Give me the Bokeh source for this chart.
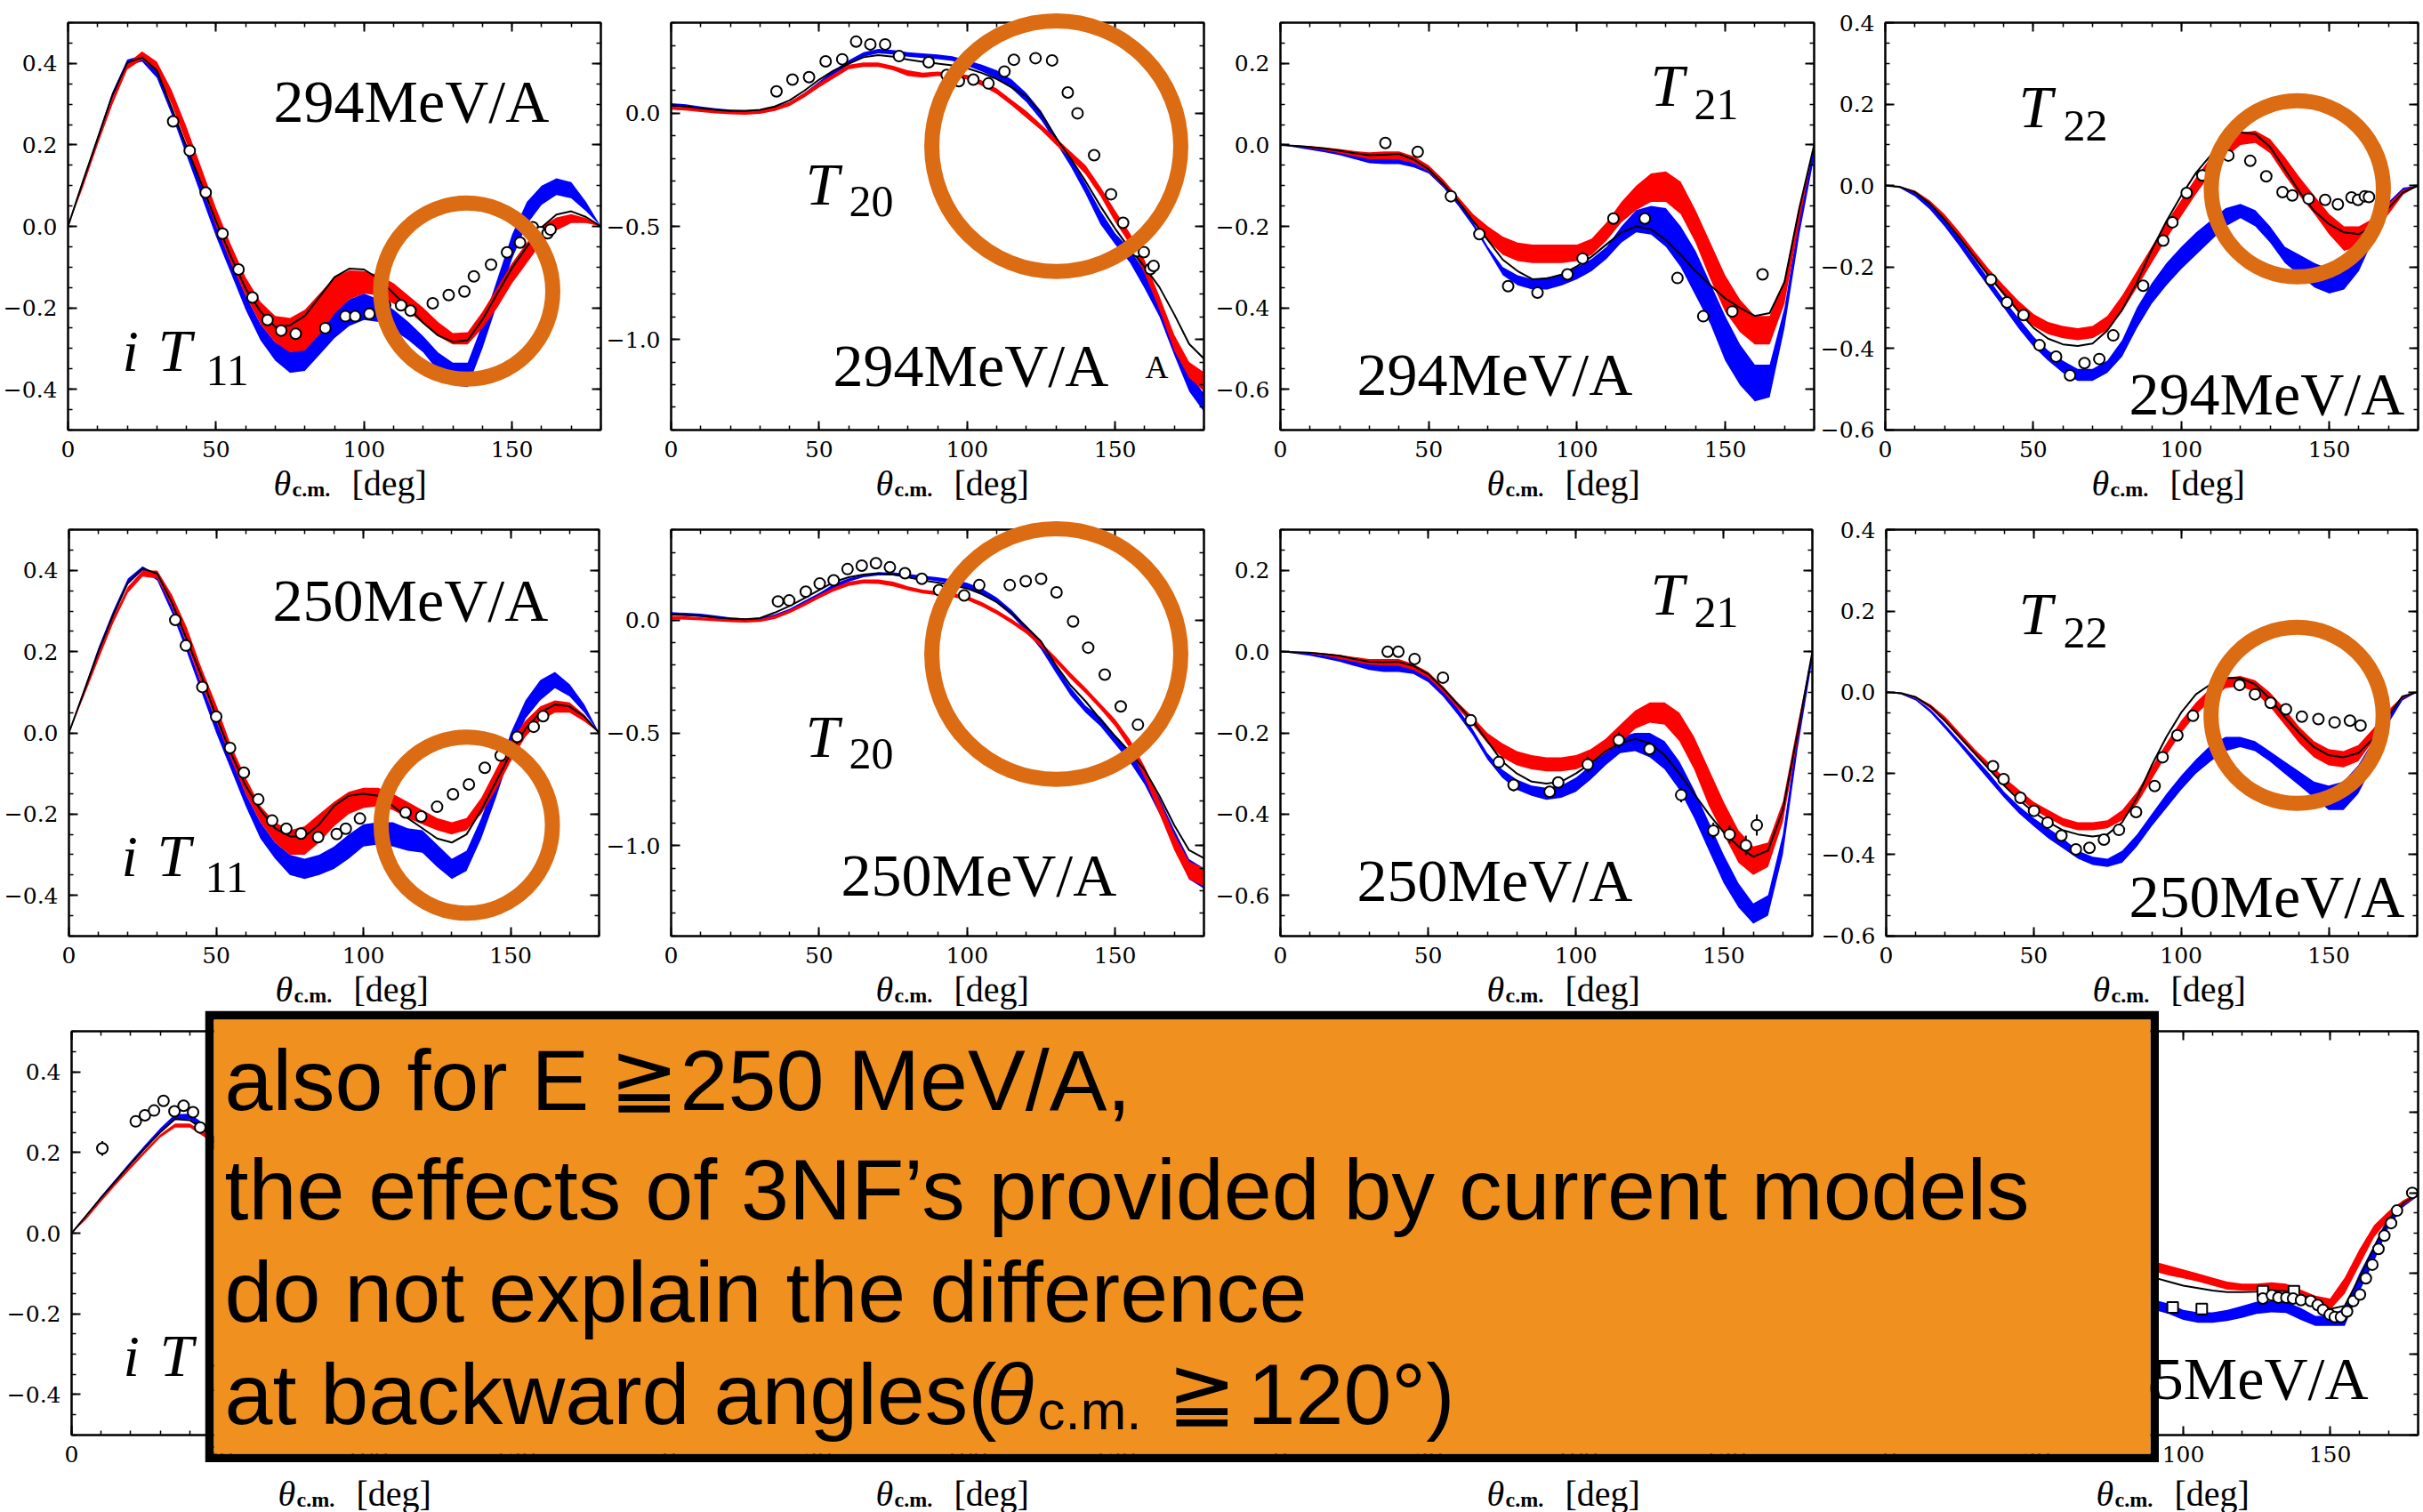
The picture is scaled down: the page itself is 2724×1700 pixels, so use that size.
from bokeh.plotting import figure
from bokeh.layouts import column, row
from bokeh.models import Range1d, FixedTicker, LinearAxis, CustomJSTickFormatter, Label
from bokeh.embed import file_html
from bokeh.resources import INLINE

# ---------------------------------------------------------------- angles
ANGLES = list(range(0, 181, 5))
ANGLES_FWD = list(range(0, 51, 5))
ANGLES_BWD = list(range(90, 181, 5))

# ---------------------------------------------------------------- iT11, 294 MeV/A
IT11_294_LINE = [0, 0.11, 0.216, 0.323, 0.402, 0.415, 0.383, 0.291, 0.196, 0.105, 0.013, -0.074, -0.153, -0.209, -0.247, -0.243, -0.22, -0.173, -0.125, -0.104, -0.106, -0.129, -0.165, -0.2, -0.237, -0.268, -0.284, -0.28, -0.229, -0.165, -0.102, -0.05, -0.002, 0.029, 0.037, 0.023, 0]
IT11_294_RED_HI = [0, 0.105, 0.21, 0.315, 0.40, 0.43, 0.405, 0.335, 0.245, 0.145, 0.045, -0.045, -0.125, -0.185, -0.22, -0.225, -0.205, -0.165, -0.125, -0.108, -0.11, -0.12, -0.14, -0.17, -0.20, -0.235, -0.262, -0.26, -0.21, -0.15, -0.09, -0.04, 0.0, 0.022, 0.03, 0.02, 0]
IT11_294_RED_LO = [0, 0.095, 0.20, 0.30, 0.385, 0.41, 0.38, 0.30, 0.205, 0.10, 0.0, -0.09, -0.17, -0.24, -0.285, -0.31, -0.305, -0.265, -0.215, -0.18, -0.165, -0.17, -0.19, -0.21, -0.24, -0.27, -0.29, -0.29, -0.25, -0.20, -0.14, -0.09, -0.04, -0.01, 0.008, 0.008, 0]
IT11_294_BLUE_HI = [0, 0.112, 0.222, 0.33, 0.41, 0.42, 0.38, 0.295, 0.20, 0.10, 0.005, -0.085, -0.17, -0.24, -0.285, -0.305, -0.29, -0.25, -0.21, -0.18, -0.165, -0.18, -0.205, -0.235, -0.27, -0.31, -0.335, -0.335, -0.24, -0.13, -0.02, 0.06, 0.10, 0.118, 0.109, 0.06, 0]
IT11_294_BLUE_LO = [0, 0.10, 0.21, 0.315, 0.395, 0.405, 0.365, 0.275, 0.175, 0.075, -0.025, -0.115, -0.205, -0.28, -0.33, -0.36, -0.355, -0.315, -0.275, -0.245, -0.23, -0.235, -0.255, -0.28, -0.31, -0.355, -0.39, -0.395, -0.30, -0.19, -0.08, 0.005, 0.053, 0.077, 0.069, 0.037, 0]
IT11_294_X = [35.5, 41.1, 46.5, 52.2, 57.6, 62.3, 67.4, 72.0, 76.9, 86.9, 93.7, 97.0, 101.8, 107.1, 112.5, 115.7, 123.2, 128.6, 133.9, 137.1, 142.9, 148.3, 152.7, 157.0, 159.6, 162.0, 163.0]
IT11_294_Y = [0.258, 0.186, 0.083, -0.018, -0.106, -0.175, -0.23, -0.256, -0.264, -0.25, -0.221, -0.221, -0.215, -0.194, -0.194, -0.207, -0.189, -0.169, -0.160, -0.123, -0.094, -0.064, -0.040, -0.002, -0.014, -0.017, -0.008]

# ---------------------------------------------------------------- T20, 294 MeV/A
T20_294_LINE = [0.036, 0.03, 0.022, 0.015, 0.01, 0.01, 0.015, 0.03, 0.057, 0.10, 0.149, 0.19, 0.22, 0.248, 0.257, 0.25, 0.238, 0.228, 0.22, 0.212, 0.199, 0.178, 0.152, 0.115, 0.075, 0.0, -0.108, -0.2, -0.3, -0.41, -0.51, -0.6, -0.68, -0.77, -0.89, -1.02, -1.085]
T20_294_RED_HI = [0.03, 0.026, 0.02, 0.014, 0.01, 0.008, 0.012, 0.026, 0.05, 0.09, 0.135, 0.175, 0.215, 0.225, 0.225, 0.21, 0.19, 0.18, 0.185, 0.18, 0.17, 0.145, 0.11, 0.06, 0.01, -0.05, -0.11, -0.17, -0.23, -0.325, -0.43, -0.53, -0.65, -0.81, -0.98, -1.1, -1.145]
T20_294_RED_LO = [0.016, 0.012, 0.006, 0.0, -0.004, -0.006, -0.002, 0.01, 0.032, 0.07, 0.115, 0.155, 0.195, 0.205, 0.205, 0.19, 0.165, 0.158, 0.165, 0.16, 0.15, 0.122, 0.085, 0.035, -0.02, -0.075, -0.14, -0.2, -0.27, -0.365, -0.48, -0.58, -0.71, -0.87, -1.05, -1.17, -1.23]
T20_294_BLUE_HI = [0.045, 0.04, 0.03, 0.022, 0.016, 0.014, 0.016, 0.028, 0.05, 0.09, 0.14, 0.19, 0.235, 0.27, 0.285, 0.28, 0.27, 0.265, 0.26, 0.252, 0.235, 0.215, 0.19, 0.15, 0.09, 0.01, -0.1, -0.2, -0.31, -0.43, -0.53, -0.6, -0.7, -0.82, -0.99, -1.15, -1.24]
T20_294_BLUE_LO = [0.03, 0.025, 0.018, 0.01, 0.004, 0.002, 0.004, 0.014, 0.035, 0.072, 0.12, 0.17, 0.215, 0.25, 0.265, 0.26, 0.25, 0.245, 0.24, 0.232, 0.21, 0.185, 0.155, 0.11, 0.05, -0.03, -0.13, -0.235, -0.355, -0.49, -0.58, -0.66, -0.775, -0.9, -1.07, -1.23, -1.32]
T20_294_X = [35.6, 41.0, 46.6, 52.2, 57.8, 62.5, 67.3, 72.3, 77.0, 87.0, 93.1, 97.2, 102.1, 107.2, 112.6, 115.8, 123.1, 128.7, 134.0, 137.3, 142.9, 148.6, 152.7, 157.5, 159.7, 161.9, 163.0]
T20_294_Y = [0.097, 0.149, 0.160, 0.230, 0.239, 0.317, 0.305, 0.305, 0.253, 0.226, 0.170, 0.142, 0.149, 0.132, 0.185, 0.237, 0.244, 0.234, 0.092, 0.0, -0.185, -0.358, -0.484, -0.61, -0.614, -0.689, -0.675]

# ---------------------------------------------------------------- T21, 294 MeV/A
T21_294_LINE = [0, -0.002, -0.005, -0.009, -0.014, -0.02, -0.025, -0.024, -0.022, -0.036, -0.06, -0.096, -0.139, -0.187, -0.234, -0.282, -0.31, -0.33, -0.328, -0.318, -0.298, -0.274, -0.244, -0.215, -0.2, -0.207, -0.234, -0.27, -0.31, -0.345, -0.377, -0.4, -0.42, -0.413, -0.337, -0.155, 0]
T21_294_RED_HI = [0, 0.0, -0.003, -0.006, -0.01, -0.015, -0.018, -0.016, -0.016, -0.028, -0.05, -0.085, -0.128, -0.17, -0.2, -0.225, -0.24, -0.245, -0.245, -0.245, -0.245, -0.23, -0.19, -0.14, -0.1, -0.07, -0.065, -0.09, -0.16, -0.24, -0.32, -0.38, -0.42, -0.42, -0.33, -0.15, 0]
T21_294_RED_LO = [0, -0.004, -0.008, -0.013, -0.02, -0.028, -0.035, -0.035, -0.036, -0.045, -0.065, -0.1, -0.142, -0.19, -0.235, -0.27, -0.285, -0.29, -0.29, -0.29, -0.285, -0.27, -0.235, -0.19, -0.16, -0.14, -0.14, -0.17, -0.24, -0.33, -0.41, -0.46, -0.49, -0.49, -0.39, -0.19, 0]
T21_294_BLUE_HI = [0, -0.002, -0.006, -0.01, -0.015, -0.022, -0.03, -0.03, -0.03, -0.04, -0.055, -0.095, -0.14, -0.19, -0.25, -0.3, -0.32, -0.33, -0.325, -0.32, -0.3, -0.28, -0.25, -0.2, -0.16, -0.15, -0.155, -0.2, -0.26, -0.34, -0.42, -0.49, -0.54, -0.54, -0.4, -0.18, 0]
T21_294_BLUE_LO = [0, -0.006, -0.012, -0.018, -0.025, -0.035, -0.045, -0.047, -0.047, -0.055, -0.07, -0.105, -0.15, -0.2, -0.26, -0.32, -0.345, -0.355, -0.355, -0.345, -0.33, -0.31, -0.28, -0.24, -0.215, -0.22, -0.25, -0.3, -0.37, -0.44, -0.53, -0.59, -0.63, -0.62, -0.45, -0.22, -0.03]
T21_294_X = [35.4, 46.3, 57.5, 67.1, 76.8, 86.7, 96.8, 101.9, 112.3, 122.9, 133.9, 142.6, 152.4, 162.6]
T21_294_Y = [0.005, -0.017, -0.126, -0.219, -0.347, -0.363, -0.318, -0.279, -0.181, -0.181, -0.327, -0.421, -0.409, -0.318]

# ---------------------------------------------------------------- T22, 294 MeV/A
T22_294_LINE = [0, -0.003, -0.016, -0.044, -0.083, -0.127, -0.174, -0.222, -0.265, -0.309, -0.349, -0.376, -0.39, -0.394, -0.388, -0.356, -0.305, -0.238, -0.158, -0.087, -0.024, 0.032, 0.075, 0.111, 0.131, 0.127, 0.095, 0.04, -0.016, -0.063, -0.095, -0.115, -0.119, -0.099, -0.055, -0.016, 0]
T22_294_RED_HI = [0, -0.002, -0.012, -0.036, -0.07, -0.113, -0.16, -0.205, -0.245, -0.283, -0.315, -0.335, -0.345, -0.35, -0.345, -0.32, -0.27, -0.21, -0.15, -0.09, -0.035, 0.02, 0.07, 0.11, 0.13, 0.135, 0.115, 0.07, 0.02, -0.025, -0.07, -0.10, -0.10, -0.08, -0.045, -0.01, 0]
T22_294_RED_LO = [0, -0.005, -0.018, -0.046, -0.085, -0.13, -0.18, -0.225, -0.27, -0.31, -0.345, -0.365, -0.375, -0.38, -0.375, -0.355, -0.31, -0.25, -0.19, -0.13, -0.075, -0.02, 0.03, 0.07, 0.10, 0.105, 0.08, 0.025, -0.025, -0.07, -0.12, -0.16, -0.15, -0.12, -0.07, -0.022, 0]
T22_294_BLUE_HI = [0, -0.003, -0.018, -0.045, -0.085, -0.13, -0.18, -0.23, -0.28, -0.325, -0.37, -0.405, -0.43, -0.45, -0.45, -0.43, -0.38, -0.30, -0.24, -0.19, -0.15, -0.115, -0.085, -0.055, -0.045, -0.06, -0.10, -0.15, -0.17, -0.19, -0.205, -0.20, -0.16, -0.09, -0.04, -0.005, 0]
T22_294_BLUE_LO = [0, -0.006, -0.026, -0.058, -0.10, -0.148, -0.20, -0.25, -0.30, -0.35, -0.395, -0.43, -0.46, -0.48, -0.48, -0.46, -0.42, -0.35, -0.29, -0.245, -0.205, -0.17, -0.135, -0.10, -0.08, -0.10, -0.14, -0.19, -0.22, -0.25, -0.265, -0.255, -0.21, -0.13, -0.06, -0.02, 0]
T22_294_X = [35.7, 41.1, 46.7, 52.1, 57.7, 62.4, 67.3, 72.3, 77.0, 87.1, 93.9, 97.0, 101.8, 107.1, 112.2, 115.9, 123.3, 128.7, 134.2, 137.5, 143.0, 148.6, 152.9, 157.5, 159.7, 162.0, 163.4]
T22_294_Y = [-0.231, -0.287, -0.318, -0.392, -0.42, -0.466, -0.436, -0.426, -0.368, -0.246, -0.135, -0.09, -0.018, 0.025, 0.07, 0.074, 0.061, 0.023, -0.016, -0.024, -0.032, -0.035, -0.046, -0.029, -0.035, -0.026, -0.028]

# ---------------------------------------------------------------- iT11, 250 MeV/A
IT11_250_LINE = [0, 0.10, 0.20, 0.29, 0.37, 0.405, 0.392, 0.32, 0.23, 0.14, 0.04, -0.05, -0.13, -0.19, -0.235, -0.255, -0.255, -0.225, -0.18, -0.155, -0.15, -0.155, -0.18, -0.21, -0.235, -0.26, -0.27, -0.25, -0.19, -0.12, -0.05, 0.01, 0.05, 0.07, 0.065, 0.04, 0]
IT11_250_RED_HI = [0, 0.097, 0.195, 0.285, 0.36, 0.40, 0.40, 0.34, 0.26, 0.16, 0.07, -0.03, -0.11, -0.18, -0.22, -0.24, -0.23, -0.20, -0.17, -0.145, -0.135, -0.135, -0.15, -0.17, -0.19, -0.21, -0.22, -0.21, -0.16, -0.09, -0.02, 0.03, 0.065, 0.08, 0.075, 0.045, 0]
IT11_250_RED_LO = [0, 0.088, 0.18, 0.27, 0.345, 0.385, 0.38, 0.31, 0.22, 0.12, 0.03, -0.065, -0.15, -0.22, -0.27, -0.30, -0.30, -0.27, -0.23, -0.20, -0.185, -0.18, -0.19, -0.21, -0.225, -0.24, -0.25, -0.24, -0.20, -0.14, -0.07, -0.01, 0.03, 0.05, 0.05, 0.028, 0]
IT11_250_BLUE_HI = [0, 0.105, 0.21, 0.30, 0.38, 0.41, 0.39, 0.31, 0.22, 0.12, 0.03, -0.06, -0.15, -0.22, -0.27, -0.30, -0.31, -0.30, -0.28, -0.25, -0.225, -0.22, -0.22, -0.235, -0.24, -0.275, -0.31, -0.29, -0.21, -0.11, 0.0, 0.08, 0.13, 0.15, 0.12, 0.07, 0]
IT11_250_BLUE_LO = [0, 0.095, 0.195, 0.285, 0.365, 0.40, 0.375, 0.295, 0.20, 0.10, 0.0, -0.09, -0.18, -0.26, -0.31, -0.35, -0.36, -0.35, -0.335, -0.31, -0.28, -0.275, -0.28, -0.29, -0.295, -0.33, -0.36, -0.34, -0.26, -0.16, -0.05, 0.035, 0.08, 0.11, 0.09, 0.05, 0]
IT11_250_X = [36.1, 39.7, 45.3, 50.0, 54.7, 59.4, 64.3, 69.0, 73.8, 78.8, 84.6, 90.9, 94.0, 98.8, 114.3, 119.6, 125.0, 130.4, 135.8, 141.2, 146.6, 152.2, 157.8, 161.0]
IT11_250_Y = [0.278, 0.215, 0.113, 0.04, -0.037, -0.098, -0.164, -0.216, -0.236, -0.248, -0.257, -0.249, -0.236, -0.211, -0.196, -0.206, -0.182, -0.151, -0.127, -0.086, -0.056, -0.01, 0.015, 0.041]

# ---------------------------------------------------------------- T20, 250 MeV/A
T20_250_LINE = [0.026, 0.022, 0.019, 0.012, 0.007, 0.004, 0.009, 0.033, 0.062, 0.097, 0.133, 0.169, 0.19, 0.202, 0.208, 0.202, 0.19, 0.176, 0.166, 0.155, 0.14, 0.115, 0.08, 0.03, -0.03, -0.095, -0.2, -0.29, -0.36, -0.44, -0.515, -0.585, -0.665, -0.78, -0.91, -1.02, -1.055]
T20_250_RED_HI = [0.018, 0.016, 0.013, 0.008, 0.004, 0.001, 0.004, 0.02, 0.045, 0.078, 0.112, 0.145, 0.17, 0.18, 0.18, 0.17, 0.15, 0.135, 0.128, 0.12, 0.107, 0.08, 0.045, 0.005, -0.04, -0.10, -0.165, -0.235, -0.30, -0.37, -0.44, -0.53, -0.65, -0.80, -0.95, -1.07, -1.10]
T20_250_RED_LO = [0.004, 0.002, -0.001, -0.005, -0.009, -0.011, -0.008, 0.005, 0.03, 0.062, 0.096, 0.128, 0.152, 0.162, 0.16, 0.15, 0.132, 0.118, 0.11, 0.102, 0.088, 0.06, 0.025, -0.015, -0.06, -0.12, -0.19, -0.26, -0.325, -0.395, -0.47, -0.57, -0.70, -0.86, -1.02, -1.15, -1.18]
T20_250_BLUE_HI = [0.035, 0.032, 0.028, 0.02, 0.012, 0.008, 0.01, 0.025, 0.05, 0.085, 0.12, 0.16, 0.185, 0.20, 0.212, 0.212, 0.205, 0.197, 0.19, 0.18, 0.165, 0.14, 0.10, 0.045, -0.025, -0.10, -0.20, -0.30, -0.38, -0.43, -0.51, -0.58, -0.67, -0.79, -0.93, -1.06, -1.10]
T20_250_BLUE_LO = [0.02, 0.018, 0.014, 0.006, 0.0, -0.004, -0.004, 0.01, 0.035, 0.065, 0.10, 0.14, 0.17, 0.19, 0.198, 0.198, 0.19, 0.182, 0.172, 0.16, 0.14, 0.115, 0.075, 0.02, -0.05, -0.13, -0.235, -0.335, -0.41, -0.47, -0.55, -0.63, -0.73, -0.86, -1.0, -1.15, -1.19]
T20_250_X = [36.1, 39.9, 45.5, 50.2, 54.9, 59.6, 64.4, 69.2, 73.9, 79.0, 84.7, 90.5, 99.0, 104.1, 114.4, 119.8, 125.0, 130.2, 135.8, 140.9, 146.5, 151.9, 157.7]
T20_250_Y = [0.083, 0.087, 0.126, 0.162, 0.176, 0.226, 0.241, 0.252, 0.234, 0.208, 0.183, 0.133, 0.109, 0.155, 0.155, 0.172, 0.183, 0.123, -0.006, -0.122, -0.242, -0.383, -0.464]

# ---------------------------------------------------------------- T21, 250 MeV/A
T21_250_LINE = [0, -0.001, -0.003, -0.006, -0.01, -0.018, -0.025, -0.026, -0.025, -0.035, -0.055, -0.09, -0.13, -0.17, -0.22, -0.27, -0.30, -0.32, -0.325, -0.32, -0.30, -0.275, -0.245, -0.225, -0.215, -0.225, -0.255, -0.30, -0.35, -0.40, -0.445, -0.48, -0.505, -0.49, -0.39, -0.20, 0]
T21_250_RED_HI = [0, 0, 0, -0.004, -0.008, -0.013, -0.018, -0.018, -0.018, -0.03, -0.05, -0.085, -0.125, -0.16, -0.20, -0.225, -0.245, -0.255, -0.26, -0.26, -0.255, -0.24, -0.215, -0.18, -0.145, -0.125, -0.125, -0.15, -0.21, -0.29, -0.37, -0.44, -0.48, -0.47, -0.37, -0.18, 0]
T21_250_RED_LO = [0, -0.003, -0.005, -0.01, -0.018, -0.025, -0.032, -0.034, -0.035, -0.045, -0.065, -0.10, -0.14, -0.18, -0.225, -0.26, -0.28, -0.29, -0.295, -0.295, -0.29, -0.275, -0.25, -0.225, -0.19, -0.175, -0.18, -0.22, -0.29, -0.38, -0.45, -0.52, -0.55, -0.53, -0.42, -0.22, 0]
T21_250_BLUE_HI = [0, -0.002, -0.005, -0.01, -0.015, -0.022, -0.03, -0.03, -0.03, -0.04, -0.06, -0.095, -0.14, -0.19, -0.25, -0.29, -0.315, -0.33, -0.335, -0.33, -0.31, -0.28, -0.24, -0.21, -0.20, -0.20, -0.22, -0.27, -0.34, -0.42, -0.50, -0.57, -0.62, -0.60, -0.45, -0.20, 0]
T21_250_BLUE_LO = [0, -0.005, -0.01, -0.017, -0.025, -0.035, -0.045, -0.05, -0.05, -0.055, -0.075, -0.11, -0.155, -0.205, -0.265, -0.31, -0.34, -0.355, -0.365, -0.36, -0.345, -0.315, -0.28, -0.25, -0.245, -0.26, -0.29, -0.34, -0.41, -0.49, -0.57, -0.63, -0.67, -0.65, -0.50, -0.24, -0.02]
T21_250_X = [36.3, 39.9, 45.4, 55.0, 64.4, 73.9, 78.9, 91.1, 94.0, 104.0, 114.5, 124.9, 135.6, 146.5, 152.0, 157.5, 161.2]
T21_250_Y = [0.0, 0.0, -0.018, -0.064, -0.169, -0.272, -0.328, -0.345, -0.322, -0.278, -0.218, -0.24, -0.353, -0.441, -0.45, -0.477, -0.427]
T21_250_ERR = [0.008, 0.008, 0.008, 0.01, 0.01, 0.012, 0.016, 0.014, 0.014, 0.02, 0.019, 0.015, 0.018, 0.02, 0.022, 0.024, 0.026]

# ---------------------------------------------------------------- T22, 250 MeV/A
T22_250_LINE = [0, -0.002, -0.012, -0.035, -0.07, -0.11, -0.15, -0.19, -0.23, -0.265, -0.295, -0.32, -0.34, -0.35, -0.355, -0.35, -0.32, -0.26, -0.18, -0.11, -0.05, -0.005, 0.02, 0.035, 0.035, 0.02, -0.015, -0.06, -0.10, -0.135, -0.155, -0.16, -0.15, -0.115, -0.06, -0.01, 0]
T22_250_RED_HI = [0, -0.002, -0.01, -0.03, -0.06, -0.10, -0.14, -0.175, -0.21, -0.24, -0.27, -0.29, -0.31, -0.32, -0.32, -0.315, -0.29, -0.245, -0.185, -0.125, -0.07, -0.025, 0.01, 0.035, 0.04, 0.03, 0.0, -0.04, -0.085, -0.12, -0.14, -0.145, -0.13, -0.09, -0.045, -0.01, 0]
T22_250_RED_LO = [0, -0.004, -0.015, -0.04, -0.075, -0.115, -0.155, -0.193, -0.23, -0.26, -0.29, -0.31, -0.33, -0.34, -0.34, -0.335, -0.315, -0.275, -0.215, -0.155, -0.10, -0.055, -0.02, 0.01, 0.015, 0.0, -0.035, -0.08, -0.125, -0.16, -0.18, -0.185, -0.17, -0.12, -0.06, -0.015, 0]
T22_250_BLUE_HI = [0, -0.003, -0.015, -0.042, -0.08, -0.12, -0.16, -0.20, -0.245, -0.28, -0.31, -0.335, -0.36, -0.39, -0.405, -0.41, -0.39, -0.35, -0.30, -0.25, -0.205, -0.165, -0.13, -0.11, -0.11, -0.12, -0.145, -0.17, -0.195, -0.22, -0.23, -0.22, -0.18, -0.12, -0.05, -0.01, 0]
T22_250_BLUE_LO = [0, -0.005, -0.02, -0.05, -0.09, -0.132, -0.175, -0.218, -0.26, -0.298, -0.33, -0.36, -0.385, -0.41, -0.425, -0.43, -0.42, -0.38, -0.33, -0.285, -0.24, -0.20, -0.17, -0.145, -0.135, -0.145, -0.17, -0.20, -0.23, -0.26, -0.29, -0.29, -0.25, -0.18, -0.08, -0.02, 0]
T22_250_X = [36.2, 39.8, 45.5, 50.1, 54.7, 59.4, 64.3, 68.9, 73.8, 78.9, 84.7, 91.0, 93.7, 98.7, 104.0, 119.8, 125.0, 130.3, 135.5, 140.9, 146.5, 152.0, 157.2, 160.8]
T22_250_Y = [-0.182, -0.214, -0.26, -0.292, -0.321, -0.353, -0.387, -0.383, -0.363, -0.339, -0.295, -0.231, -0.16, -0.106, -0.058, 0.018, -0.005, -0.026, -0.042, -0.06, -0.066, -0.074, -0.07, -0.082]

# ---------------------------------------------------------------- iT11, 135 MeV/A (forward part)
IT11_135_LINE = [0, 0.044, 0.088, 0.13, 0.172, 0.212, 0.25, 0.283, 0.28, 0.255, 0.21]
IT11_135_RED_HI = [0, 0.04, 0.085, 0.128, 0.168, 0.207, 0.245, 0.272, 0.272, 0.25, 0.205]
IT11_135_RED_LO = [0, 0.035, 0.078, 0.12, 0.16, 0.199, 0.237, 0.262, 0.262, 0.238, 0.19]
IT11_135_BLUE_HI = [0, 0.046, 0.092, 0.135, 0.178, 0.22, 0.26, 0.295, 0.296, 0.27, 0.225]
IT11_135_BLUE_LO = [0, 0.042, 0.086, 0.128, 0.17, 0.21, 0.25, 0.282, 0.282, 0.255, 0.21]
IT11_135_X = [10.4, 21.7, 24.8, 27.9, 31.1, 34.8, 37.9, 41.1, 43.5]
IT11_135_Y = [0.21, 0.277, 0.292, 0.304, 0.328, 0.302, 0.316, 0.3, 0.262]
IT11_135_ERR = [0.018, 0.01, 0.01, 0.01, 0.014, 0.01, 0.014, 0.01, 0.01]

# ---------------------------------------------------------------- T22, 135 MeV/A (backward part)
T22_135_LINE = [-0.21, -0.22, -0.23, -0.236, -0.242, -0.246, -0.246, -0.245, -0.243, -0.244, -0.252, -0.27, -0.288, -0.28, -0.21, -0.135, -0.065, -0.025, -0.003]
T22_135_RED_HI = [-0.17, -0.18, -0.19, -0.2, -0.21, -0.22, -0.225, -0.225, -0.222, -0.225, -0.24, -0.255, -0.262, -0.21, -0.14, -0.08, -0.045, -0.018, 0]
T22_135_RED_LO = [-0.195, -0.205, -0.212, -0.22, -0.23, -0.24, -0.242, -0.242, -0.24, -0.245, -0.262, -0.28, -0.29, -0.25, -0.18, -0.11, -0.065, -0.03, -0.008]
T22_135_BLUE_HI = [-0.265, -0.275, -0.29, -0.296, -0.296, -0.29, -0.28, -0.27, -0.268, -0.27, -0.285, -0.305, -0.305, -0.285, -0.2, -0.13, -0.055, -0.02, 0]
T22_135_BLUE_LO = [-0.29, -0.3, -0.315, -0.322, -0.322, -0.318, -0.31, -0.3, -0.296, -0.298, -0.315, -0.33, -0.33, -0.33, -0.245, -0.17, -0.085, -0.035, -0.008]
T22_135_X = [127.1, 130.2, 132.4, 135.1, 137.4, 140.1, 143.4, 145.8, 147.6, 149.9, 151.6, 153.7, 155.8, 157.9, 160.2, 162.2, 164.4, 166.5, 168.5, 170.8, 172.8, 178.0]
T22_135_Y = [-0.262, -0.254, -0.26, -0.26, -0.262, -0.266, -0.268, -0.278, -0.29, -0.302, -0.308, -0.308, -0.294, -0.268, -0.252, -0.212, -0.178, -0.139, -0.106, -0.075, -0.044, 0.0]
T22_135_SQ_X = [96.4, 106.3, 127.1, 137.7]
T22_135_SQ_Y = [-0.284, -0.288, -0.244, -0.244]

# ---------------------------------------------------------------- styling / layout
SERIF = "Liberation Serif"
TICK_FONT = "DejaVu Serif"
SANS = "Liberation Sans"
SYMBOL_FONT = "DejaVu Sans"
RED = "#FF0000"
BLUE = "#0000FF"
RING_COLOR = "#DC6C14"
BOX_ORANGE = "#F0901E"
PAGE_W, PAGE_H = 2724, 1700

COL_WIDTHS = [678, 680, 684, 682]
COL_X0 = [0, 678, 1358, 2042]
ROW_SPECS = [(570, 25, 458), (560, 25, 457), (570, 29, 454)]   # fig height, top border, frame height
ROW_Y0 = [0, 570, 1130]
FRAME_X = [
    [(75, 600), (74, 601), (81, 600), (77, 599)],
    [(77, 596), (74, 601), (81, 598), (78, 597)],
    [(80, 600), (74, 601), (81, 600), (82, 594)],
]
Y_SPECS = [
    ((-0.5, 0.5), [-0.4, -0.2, 0.0, 0.2, 0.4], 0.05),
    ((-1.4, 0.4), [-1.0, -0.5, 0.0], 0.1),
    ((-0.7, 0.3), [-0.6, -0.4, -0.2, 0.0, 0.2], 0.05),
    ((-0.6, 0.4), [-0.6, -0.4, -0.2, 0.0, 0.2, 0.4], 0.05),
]

# half of (ascent - descent) in em: offset between alphabetic baseline and text middle
MID = {SERIF: 0.3375, SANS: 0.3465, TICK_FONT: 0.346, SYMBOL_FONT: 0.346}

overlay_texts = []   # (text, page_x, page_baseline, size, style, font, align)
overlay_rings = []   # (page_cx, page_cy, w, h)


def frame_box(r, c):
    left = COL_X0[c] + FRAME_X[r][c][0]
    width = FRAME_X[r][c][1]
    top = ROW_Y0[r] + ROW_SPECS[r][1]
    height = ROW_SPECS[r][2]
    return left, top, width, height


def minor_list(lo, hi, step):
    n = int(round((hi - lo) / step))
    return [round(lo + i * step, 4) for i in range(n + 1)]


def y_formatter():
    return CustomJSTickFormatter(code="""
        const v = Math.abs(tick) < 1e-9 ? 0 : tick;
        return v.toFixed(1).replace('-', '\u2212');
    """)


def x_formatter():
    return CustomJSTickFormatter(code="return tick.toFixed(0);")


def blank_formatter():
    return CustomJSTickFormatter(code="return '';")


def make_axis(ticker, formatter, show, standoff):
    return LinearAxis(
        ticker=ticker, formatter=formatter,
        axis_line_width=2, axis_line_color="black",
        major_tick_line_width=2, minor_tick_line_width=1.5,
        major_tick_line_color="black", minor_tick_line_color="black",
        major_tick_in=10, major_tick_out=0, minor_tick_in=5, minor_tick_out=0,
        major_label_standoff=standoff,
        major_label_text_font=TICK_FONT,
        major_label_text_font_size="25px" if show else "0px",
        major_label_text_color="black",
    )


def put(p, text, x, y, size, style="normal", font=SERIF, align="left"):
    """Place text with its alphabetic baseline at screen (x, y), measured from the frame's lower left."""
    p.add_layout(Label(x=x, y=y + MID[font] * size, x_units="screen", y_units="screen", text=text,
                       text_font=font, text_font_size=f"{size}px", text_font_style=style,
                       text_align=align, text_baseline="middle", text_color="black"))


def make_panel(r, c, show_y=True):
    height, top, fh = ROW_SPECS[r]
    width = COL_WIDTHS[c]
    left, fw = FRAME_X[r][c]
    (y0, y1), ymaj, ystep = Y_SPECS[c]
    pad = 0.0005 * (y1 - y0)
    p = figure(width=width, height=height, x_range=Range1d(0, 180), y_range=Range1d(y0 - pad, y1 + pad),
               x_axis_type=None, y_axis_type=None, toolbar_location=None, output_backend="svg",
               min_border_left=left, min_border_right=width - left - fw,
               min_border_top=top, min_border_bottom=height - top - fh)
    p.outline_line_color = "black"
    p.outline_line_width = 2
    p.background_fill_color = "white"
    p.border_fill_color = "white"

    def xt():
        return FixedTicker(ticks=[0, 50, 100, 150], minor_ticks=list(range(0, 181, 10)))

    def yt():
        return FixedTicker(ticks=ymaj, minor_ticks=minor_list(y0, y1, ystep))

    p.add_layout(make_axis(xt(), x_formatter(), True, 12), "below")
    p.add_layout(make_axis(yt(), y_formatter() if show_y else blank_formatter(), show_y, 12), "left")
    p.add_layout(make_axis(xt(), blank_formatter(), False, 0), "above")
    p.add_layout(make_axis(yt(), blank_formatter(), False, 0), "right")

    # axis title theta_c.m. [deg], drawn on the page overlay below the frame
    fl, ft, fwid, fht = frame_box(r, c)
    base = ft + fht + (79 if r == 2 else 73)
    overlay_texts.append(("\u03b8", fl + 222, base, 40, "italic", SERIF, "left"))
    overlay_texts.append(("c.m.", fl + 243, base + 2, 24, "bold", SERIF, "left"))
    overlay_texts.append(("[deg]", fl + 310, base, 40, "normal", SERIF, "left"))
    return p


def theory(p, xs, red_lo, red_hi, blue_lo, blue_hi, line):
    p.varea(x=xs, y1=blue_lo, y2=blue_hi, fill_color=BLUE)
    p.varea(x=xs, y1=red_lo, y2=red_hi, fill_color=RED)
    p.line(xs, line, line_color="black", line_width=2)


def measured(p, xs, ys, errs=None, marker="circle"):
    if errs:
        p.segment(x0=xs, y0=[y - e for y, e in zip(ys, errs)], x1=xs, y1=[y + e for y, e in zip(ys, errs)],
                  line_color="black", line_width=2)
    p.scatter(xs, ys, marker=marker, size=12, fill_color="white", line_color="black", line_width=2)


def ring(r, c, cx, cy, w, h):
    """Highlight ring centred at data point (cx, cy) of panel (r, c); size in pixels."""
    fl, ft, fw, fh = frame_box(r, c)
    (y0, y1), _, _ = Y_SPECS[c]
    px = fl + cx / 180.0 * fw
    py = ft + (y1 - cy) / (y1 - y0) * fh
    overlay_rings.append((px, py, w, h))


def observable_label(p, xt, yt, sub, xs, ys, xi=None):
    if xi is not None:
        put(p, "i", xi, yt, 66, "italic")
    put(p, "T", xt, yt, 68, "italic")
    put(p, sub, xs, ys, 50)


# ---------------------------------------------------------------- row 1: 294 MeV/A
p1 = make_panel(0, 0)
theory(p1, ANGLES, IT11_294_RED_LO, IT11_294_RED_HI, IT11_294_BLUE_LO, IT11_294_BLUE_HI, IT11_294_LINE)
measured(p1, IT11_294_X, IT11_294_Y)
ring(0, 0, 132.9, -0.159, 195, 198)
put(p1, "294MeV/A", 231, 347, 68)
observable_label(p1, 101, 67, "11", 155, 50, xi=61)

p2 = make_panel(0, 1)
theory(p2, ANGLES, T20_294_RED_LO, T20_294_RED_HI, T20_294_BLUE_LO, T20_294_BLUE_HI, T20_294_LINE)
measured(p2, T20_294_X, T20_294_Y)
ring(0, 1, 129.9, -0.146, 282, 282)
observable_label(p2, 151, 254, "20", 200, 240)
put(p2, "294MeV/A", 182, 50, 68)
put(p2, "A", 533, 58, 36)

p3 = make_panel(0, 2)
theory(p3, ANGLES, T21_294_RED_LO, T21_294_RED_HI, T21_294_BLUE_LO, T21_294_BLUE_HI, T21_294_LINE)
measured(p3, T21_294_X, T21_294_Y)
observable_label(p3, 416, 365, "21", 465, 349)
put(p3, "294MeV/A", 86, 40, 68)

p4 = make_panel(0, 3)
theory(p4, ANGLES, T22_294_RED_LO, T22_294_RED_HI, T22_294_BLUE_LO, T22_294_BLUE_HI, T22_294_LINE)
measured(p4, T22_294_X, T22_294_Y)
ring(0, 3, 141.9, -0.008, 195, 198)
observable_label(p4, 150, 341, "22", 200, 325)
put(p4, "294MeV/A", 274, 18, 68)

# ---------------------------------------------------------------- row 2: 250 MeV/A
p5 = make_panel(1, 0)
theory(p5, ANGLES, IT11_250_RED_LO, IT11_250_RED_HI, IT11_250_BLUE_LO, IT11_250_BLUE_HI, IT11_250_LINE)
measured(p5, IT11_250_X, IT11_250_Y)
ring(1, 0, 133.2, -0.227, 194, 198)
put(p5, "250MeV/A", 229, 355, 68)
observable_label(p5, 99, 68, "11", 153, 49, xi=59)

p6 = make_panel(1, 1)
theory(p6, ANGLES, T20_250_RED_LO, T20_250_RED_HI, T20_250_BLUE_LO, T20_250_BLUE_HI, T20_250_LINE)
measured(p6, T20_250_X, T20_250_Y)
ring(1, 1, 129.9, -0.151, 282, 282)
observable_label(p6, 151, 202, "20", 200, 188)
put(p6, "250MeV/A", 191, 46, 68)

p7 = make_panel(1, 2)
theory(p7, ANGLES, T21_250_RED_LO, T21_250_RED_HI, T21_250_BLUE_LO, T21_250_BLUE_HI, T21_250_LINE)
measured(p7, T21_250_X, T21_250_Y, T21_250_ERR)
observable_label(p7, 416, 362, "21", 465, 347)
put(p7, "250MeV/A", 86, 40, 68)

p8 = make_panel(1, 3)
theory(p8, ANGLES, T22_250_RED_LO, T22_250_RED_HI, T22_250_BLUE_LO, T22_250_BLUE_HI, T22_250_LINE)
measured(p8, T22_250_X, T22_250_Y)
ring(1, 3, 142.0, -0.057, 195, 198)
observable_label(p8, 149, 340, "22", 199, 324)
put(p8, "250MeV/A", 273, 22, 68)

# ---------------------------------------------------------------- row 3: 135 MeV/A
p9 = make_panel(2, 0)
theory(p9, ANGLES_FWD, IT11_135_RED_LO, IT11_135_RED_HI, IT11_135_BLUE_LO, IT11_135_BLUE_HI, IT11_135_LINE)
measured(p9, IT11_135_X, IT11_135_Y, IT11_135_ERR)
observable_label(p9, 99, 67, "11", 152, 49, xi=58)

p10 = make_panel(2, 1, show_y=False)
p11 = make_panel(2, 2, show_y=False)

p12 = make_panel(2, 3, show_y=False)
theory(p12, ANGLES_BWD, T22_135_RED_LO, T22_135_RED_HI, T22_135_BLUE_LO, T22_135_BLUE_HI, T22_135_LINE)
measured(p12, T22_135_SQ_X, T22_135_SQ_Y, marker="square")
measured(p12, T22_135_X, T22_135_Y)
put(p12, "135MeV/A", 538, 41, 68, align="right")

# ---------------------------------------------------------------- page overlay: rings and axis titles
page = figure(width=PAGE_W, height=PAGE_H, x_range=Range1d(0, PAGE_W), y_range=Range1d(0, PAGE_H),
              x_axis_type=None, y_axis_type=None, toolbar_location=None, output_backend="svg",
              min_border_left=0, min_border_right=0, min_border_top=0, min_border_bottom=0)
page.background_fill_alpha = 0
page.border_fill_alpha = 0
page.outline_line_color = None
page.styles = {"position": "absolute", "left": "0px", "top": "0px", "z-index": "5"}
page.ellipse(x=[rg[0] for rg in overlay_rings], y=[PAGE_H - rg[1] for rg in overlay_rings],
             width=[rg[2] for rg in overlay_rings], height=[rg[3] for rg in overlay_rings],
             fill_color=None, line_color=RING_COLOR, line_width=17)
for txt, px, pb, size, style, font, align in overlay_texts:
    put(page, txt, px, PAGE_H - pb, size, style, font, align)

# ---------------------------------------------------------------- orange note box
box = figure(width=2197, height=508, x_range=Range1d(0, 2177), y_range=Range1d(0, 488),
             x_axis_type=None, y_axis_type=None, toolbar_location=None, output_backend="svg",
             min_border_left=10, min_border_right=10, min_border_top=10, min_border_bottom=10)
box.background_fill_color = BOX_ORANGE
box.border_fill_color = "black"
box.outline_line_color = None
box.styles = {"position": "absolute", "left": "230px", "top": "1136px", "z-index": "10"}

NOTE_SIZE = 97
put(box, "also for E", 12, 386, NOTE_SIZE, font=SANS)
put(box, "\u2267", 445, 391, 92, font=SYMBOL_FONT)
put(box, "250 MeV/A,", 524, 386, NOTE_SIZE, font=SANS)
put(box, "the effects of 3NF\u2019s provided by current models", 12, 263, NOTE_SIZE, font=SANS)
put(box, "do not explain the difference", 12, 148, NOTE_SIZE, font=SANS)
put(box, "at backward angles(", 12, 33, NOTE_SIZE, font=SANS)
put(box, "\u03b8", 869, 33, NOTE_SIZE, "italic", font=SANS)
put(box, "c.m.", 926, 28, 62, font=SANS)
put(box, "\u2267", 1072, 38, 92, font=SYMBOL_FONT)
put(box, "120\u00b0)", 1162, 33, NOTE_SIZE, font=SANS)

layout = column(row(p1, p2, p3, p4), row(p5, p6, p7, p8), row(p9, p10, p11, p12), page, box)

with open("out.html", "w", encoding="utf-8") as f:
    f.write(file_html(layout, INLINE, title="Deuteron-proton analyzing powers"))
